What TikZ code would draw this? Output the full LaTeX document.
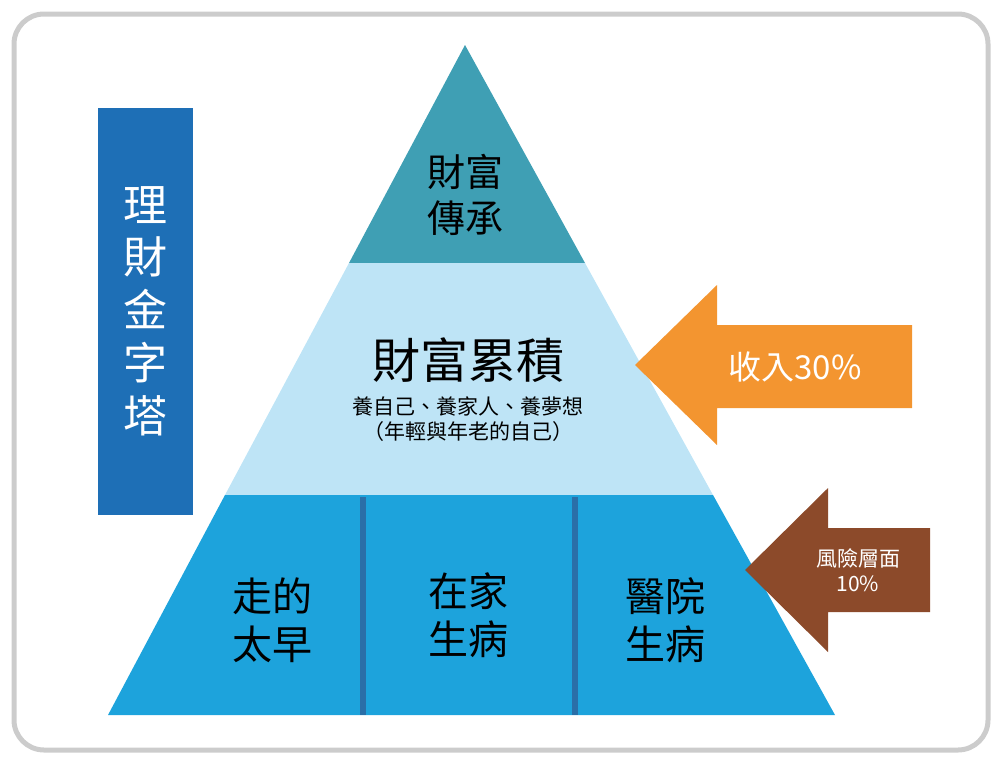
\documentclass[tikz,border=0pt]{standalone}
\usepackage{fontspec}
\setmainfont{Noto Sans CJK TC}
\usetikzlibrary{positioning}
\definecolor{tierTop}{HTML}{3F9FB4}
\definecolor{tierMid}{HTML}{BEE4F6}
\definecolor{tierLow}{HTML}{1DA3DC}
\definecolor{divLine}{HTML}{2A6FA8}
\definecolor{titleBox}{HTML}{1E6FB6}
\definecolor{arrowOrange}{HTML}{F39530}
\definecolor{arrowBrown}{HTML}{8C4A2A}
\tikzset{
  lbl/.style={align=center, font=\fontsize{#1}{1.2\dimexpr#1pt\relax}\selectfont, inner sep=0pt},
  fat/.style={draw=white, line width=2pt, line join=miter}
}
\begin{document}
\begin{tikzpicture}[x=1pt,y=-1pt]
  \useasboundingbox (0,0) rectangle (1000,763);
  % frame
  \draw[line width=5pt, gray!40, rounded corners=30pt] (14,14) rectangle (988,750);

  % pyramid tiers
  \fill[tierTop] (465,45) -- (585,263) -- (349,263) -- cycle;
  \fill[tierMid] (349,263) -- (585,263) -- (713,495) -- (225,495) -- cycle;
  \fill[tierLow] (225,495) -- (713,495) -- (835,715) -- (108,715) -- cycle;
  \draw[divLine, line width=6pt] (363,497) -- (363,715);
  \draw[divLine, line width=6pt] (575,497) -- (575,715);

  % title box
  \fill[titleBox] (98,108) rectangle (193,515);
  \node[lbl=44, text=white, text width=50pt] (title) at (145,311) {理\\財\\金\\字\\塔};

  % labels
  \node[lbl=38] (legacy) at (465,195) {財富\\傳承};
  \node[lbl=48] (wealth) at (468,360) {財富累積};
  \node[lbl=21, below=14pt of wealth] (sub) {養自己、養家人、養夢想\\（年輕與年老的自己）};
  \node[lbl=40] (early) at (272,620) {走的\\太早};
  \node[lbl=40] (home) at (468,615) {在家\\生病};
  \node[lbl=40] (hosp) at (665,620) {醫院\\生病};

  % arrows
  \fill[arrowOrange] (635,365) -- (717,285) -- (717,325) -- (912,325) -- (912,408) -- (717,408) -- (717,445) -- cycle;
  \node[lbl=33, text=white] (income) at (795,367) {收入30\%};
  \fill[arrowBrown] (745,570) -- (828,488) -- (828,528) -- (930,528) -- (930,612) -- (828,612) -- (828,652) -- cycle;
  \node[lbl=21, text=white] (risk) at (858,570) {風險層面\\10\%};
\end{tikzpicture}
\end{document}
